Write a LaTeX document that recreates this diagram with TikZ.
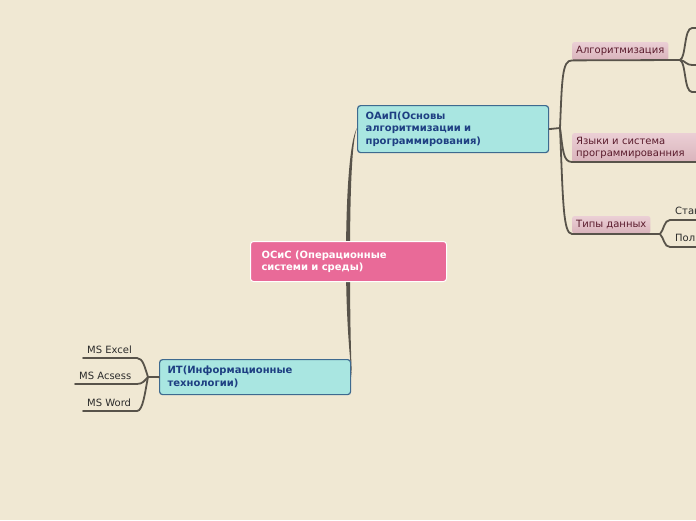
\documentclass[tikz,border=0pt]{standalone}
\usepackage{fontspec}
\setmainfont{DejaVu Sans}
\definecolor{bgc}{HTML}{F0E8D3}
\definecolor{linec}{HTML}{58534A}
\definecolor{pinkc}{HTML}{E96A98}
\definecolor{cyanc}{HTML}{A9E6E1}
\definecolor{cyanb}{HTML}{3E6A8F}
\definecolor{bluet}{HTML}{1E3F82}
\definecolor{labtop}{HTML}{EBCFD5}
\definecolor{labbot}{HTML}{D9B3BB}
\definecolor{labt}{HTML}{5A1B2C}
\definecolor{darkt}{HTML}{2B2B2B}
\begin{document}
\begin{tikzpicture}[x=1pt,y=-1pt,
  conn/.style={draw=linec,line width=1.8pt,line cap=round},
  centerbox/.style={anchor=north west,fill=pinkc,draw=white,line width=1pt,rounded corners=3pt,
    text=white,font=\bfseries\fontsize{10}{12.5}\selectfont,align=left,inner xsep=11pt,inner ysep=0pt},
  topicbox/.style={anchor=north west,fill=cyanc,draw=cyanb,line width=1.2pt,rounded corners=3pt,
    text=bluet,font=\bfseries\fontsize{10}{12.5}\selectfont,align=left,inner xsep=8pt,inner ysep=0pt},
  labbox/.style={anchor=north west,top color=labtop,bottom color=labbot,rounded corners=2pt,
    text=labt,font=\fontsize{10}{12.5}\selectfont,align=left,inner xsep=4pt,inner ysep=0pt},
  leaf/.style={text=darkt,font=\fontsize{10}{12}\selectfont,inner sep=0pt}]
\fill[bgc] (0,0) rectangle (696,520);
\clip (0,0) rectangle (696,520);

% main tapered connector
\coordinate (tT) at (357,128);
\coordinate (tB) at (352,377);
\fill[linec] (tT) .. controls (350,140) and (346,190) .. (346,261)
  .. controls (346,320) and (350,360) .. (tB)
  .. controls (351,360) and (350,320) .. (350,261)
  .. controls (350,190) and (352,140) .. (tT) -- cycle;

% nodes
\node[centerbox,minimum width=196pt,minimum height=40pt,text width=174pt] (osis) at (250,241)
  {ОСиС (Операционные\\системи и среды)};
\node[topicbox,minimum width=191pt,minimum height=47pt,text width=175pt] (oaip) at (357,105)
  {ОАиП(Основы\\алгоритмизации и\\программирования)};
\node[topicbox,minimum width=191pt,minimum height=35pt,text width=175pt] (it) at (159,359)
  {ИТ(Информационные\\технологии)};

\node[labbox,minimum height=18pt] (alg) at (572,42) {Алгоритмизация};
\node[labbox,minimum height=29pt,text width=122pt] (yaz) at (572,133) {Языки и система\\программированния};
\node[labbox,minimum height=17pt] (tip) at (572,216) {Типы данных};

% OAiP branches
\coordinate (oj) at (560,128);
\coordinate (algR) at (680,60);
\coordinate (tipR) at (660,234);
\draw[conn] (oaip.east) -- (oj);
\draw[conn] (oj) .. controls (562,80) and (562,60) .. (alg.south west) -- (algR);
\draw[conn] (oj) .. controls (563,150) and (563,162) .. (572,162) -- (700,162);
\draw[conn] (oj) .. controls (563,200) and (563,234) .. (572,234) -- (tipR);

% Algoritmizaciya children
\draw[conn] (algR) .. controls (686,58) and (684,28) .. (692,28) -- (700,28);
\draw[conn] (algR) .. controls (686,61) and (686,65) .. (692,65) -- (700,65);
\draw[conn] (algR) .. controls (686,62) and (684,92) .. (692,92) -- (700,92);

% Tipy dannykh children
\node[leaf,anchor=west] (stan) at (675,211) {Стан};
\node[leaf,anchor=west] (pol) at (675,238) {Пол};
\draw[conn] (tipR) .. controls (664,230) and (664,220) .. (670,220) -- (700,220);
\draw[conn] (tipR) .. controls (664,238) and (664,247) .. (670,247) -- (700,247);

% IT children
\coordinate (ij) at (148,377);
\node[leaf,anchor=base west] (excel) at (87,353) {MS Excel};
\node[leaf,anchor=base west] (acs) at (79,379) {MS Acsess};
\node[leaf,anchor=base west] (word) at (87,406) {MS Word};
\coordinate (exL) at (83,358);
\coordinate (acL) at (75,384);
\coordinate (woL) at (83,411);
\draw[conn] (it.west) -- (ij);
\draw[conn] (ij) .. controls (145,368) and (143,358) .. (137,358) -- (exL);
\draw[conn] (ij) .. controls (145,380) and (143,384) .. (137,384) -- (acL);
\draw[conn] (ij) .. controls (145,392) and (143,411) .. (137,411) -- (woL);
\end{tikzpicture}
\end{document}
